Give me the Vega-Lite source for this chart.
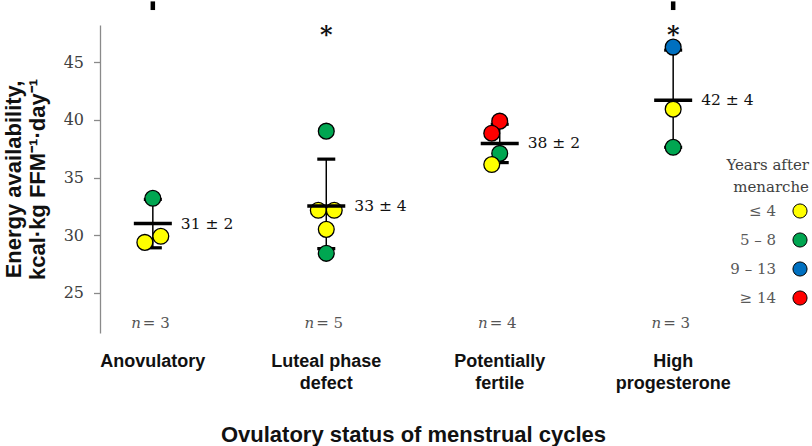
{
  "$schema": "https://vega.github.io/schema/vega-lite/v6.json",
  "width": 626,
  "height": 308,
  "autosize": {"type": "none"},
  "padding": {"left": 100, "top": 25, "right": 86, "bottom": 113},
  "background": "white",
  "config": {"view": {"stroke": null}, "axis": {"grid": false}},
  "datasets": {
    "points": [
      {"group": "Anovulatory", "value": 33.2, "years": "5 – 8", "side": "C"},
      {"group": "Anovulatory", "value": 29.37, "years": "≤ 4", "side": "L"},
      {"group": "Anovulatory", "value": 29.9, "years": "≤ 4", "side": "R"},
      {"group": "Luteal phase defect", "value": 39.03, "years": "5 – 8", "side": "C"},
      {"group": "Luteal phase defect", "value": 32.16, "years": "≤ 4", "side": "L"},
      {"group": "Luteal phase defect", "value": 32.16, "years": "≤ 4", "side": "R"},
      {"group": "Luteal phase defect", "value": 30.5, "years": "≤ 4", "side": "C"},
      {"group": "Luteal phase defect", "value": 28.42, "years": "5 – 8", "side": "C"},
      {"group": "Potentially fertile", "value": 39.9, "years": "≥ 14", "side": "C"},
      {"group": "Potentially fertile", "value": 38.85, "years": "≥ 14", "side": "L"},
      {"group": "Potentially fertile", "value": 37.1, "years": "5 – 8", "side": "C"},
      {"group": "Potentially fertile", "value": 36.13, "years": "≤ 4", "side": "L"},
      {"group": "High progesterone", "value": 46.33, "years": "9 – 13", "side": "C"},
      {"group": "High progesterone", "value": 40.94, "years": "≤ 4", "side": "C"},
      {"group": "High progesterone", "value": 37.63, "years": "5 – 8", "side": "C"}
    ],
    "summary": [
      {"group": "Anovulatory", "mean": 31.0, "lo": 28.9, "hi": 33.1, "label": "31 ± 2", "n": "= 3", "sig": "", "clipped": true},
      {"group": "Luteal phase defect", "mean": 32.53, "lo": 28.83, "hi": 36.6, "label": "33 ± 4", "n": "= 5", "sig": "*", "clipped": false},
      {"group": "Potentially fertile", "mean": 37.96, "lo": 36.3, "hi": 39.63, "label": "38 ± 2", "n": "= 4", "sig": "", "clipped": false},
      {"group": "High progesterone", "mean": 41.72, "lo": 37.63, "hi": 46.07, "label": "42 ± 4", "n": "= 3", "sig": "*", "clipped": true}
    ]
  },
  "encoding": {
    "x": {
      "field": "group",
      "type": "nominal",
      "sort": ["Anovulatory", "Luteal phase defect", "Potentially fertile", "High progesterone"],
      "scale": {"type": "band", "paddingInner": 0.862, "paddingOuter": 0.2356},
      "axis": {
        "orient": "bottom",
        "domain": false,
        "ticks": false,
        "labelAngle": 0,
        "labelFont": "Liberation Sans",
        "labelFontSize": 18,
        "labelFontWeight": "bold",
        "labelColor": "#111111",
        "labelPadding": 19,
        "labelLineHeight": 22,
        "labelBaseline": "top",
        "labelExpr": "datum.value == 'Luteal phase defect' ? ['Luteal phase', 'defect'] : datum.value == 'Potentially fertile' ? ['Potentially', 'fertile'] : datum.value == 'High progesterone' ? ['High', 'progesterone'] : datum.value",
        "title": "Ovulatory status of menstrual cycles",
        "titleFont": "Liberation Sans",
        "titleFontSize": 22,
        "titleFontWeight": "bold",
        "titleColor": "#111111",
        "titlePadding": 32
      }
    }
  },
  "layer": [
    {
      "data": {"name": "summary"},
      "mark": {"type": "rule", "color": "black", "strokeWidth": 1.5},
      "encoding": {
        "y": {
          "field": "lo",
          "type": "quantitative",
          "scale": {"domain": [21.5, 48.25], "nice": false, "zero": false},
          "axis": {
            "values": [25, 30, 35, 40, 45],
            "domainColor": "#8a8a8a",
            "domainWidth": 1.3,
            "tickColor": "#8a8a8a",
            "tickSize": 6.5,
            "tickWidth": 1.3,
            "labelFont": "DejaVu Serif",
            "labelFontSize": 16,
            "labelColor": "#404040",
            "labelPadding": 10,
            "title": ["Energy availability,", "kcal·kg FFM⁻¹·day⁻¹"],
            "titleFont": "Liberation Sans",
            "titleFontSize": 22,
            "titleFontWeight": "bold",
            "titleColor": "#111111",
            "titleLineHeight": 24,
            "titlePadding": 14
          }
        },
        "y2": {"field": "hi"}
      }
    },
    {
      "data": {"name": "summary"},
      "transform": [{"fold": ["lo", "hi"], "as": ["cap", "capvalue"]}],
      "mark": {"type": "tick", "color": "black", "size": 18, "thickness": 3.2, "opacity": 1},
      "encoding": {
        "y": {"field": "capvalue", "type": "quantitative"}
      }
    },
    {
      "data": {"name": "points"},
      "mark": {"type": "point", "shape": "circle", "filled": true, "opacity": 1, "size": 250, "stroke": "black", "strokeWidth": 1.3},
      "encoding": {
        "y": {"field": "value", "type": "quantitative"},
        "xOffset": {"field": "side", "type": "nominal", "sort": ["L", "C", "R"], "scale": {"domain": ["L", "C", "R"]}},
        "color": {
          "field": "years",
          "type": "nominal",
          "scale": {
            "domain": ["≤ 4", "5 – 8", "9 – 13", "≥ 14"],
            "range": ["#FFFF00", "#00A651", "#0070C0", "#FF0000"]
          },
          "legend": {
            "orient": "none",
            "legendX": 626,
            "legendY": 133,
            "title": ["Years after", "menarche"],
            "titleFont": "DejaVu Serif",
            "titleFontSize": 15,
            "titleFontWeight": "normal",
            "titleColor": "#404040",
            "titleAlign": "right",
            "titleAnchor": "end",
            "titleLineHeight": 22,
            "titlePadding": 8,
            "labelFont": "DejaVu Serif",
            "labelFontSize": 15,
            "labelColor": "#595959",
            "labelAlign": "right",
            "labelOffset": -32,
            "symbolType": "circle",
            "symbolSize": 200,
            "symbolStrokeColor": "black",
            "symbolStrokeWidth": 1,
            "symbolOpacity": 1,
            "rowPadding": 9
          }
        }
      }
    },
    {
      "data": {"name": "summary"},
      "mark": {"type": "tick", "color": "black", "size": 38, "thickness": 3.5, "opacity": 1},
      "encoding": {
        "y": {"field": "mean", "type": "quantitative"}
      }
    },
    {
      "data": {"name": "summary"},
      "mark": {"type": "text", "align": "left", "baseline": "middle", "dx": 28, "font": "DejaVu Serif", "fontSize": 15.5, "color": "#111111"},
      "encoding": {
        "y": {"field": "mean", "type": "quantitative"},
        "text": {"field": "label"}
      }
    },
    {
      "data": {"name": "summary"},
      "mark": {"type": "text", "align": "right", "baseline": "middle", "dx": -12, "font": "DejaVu Serif", "fontStyle": "italic", "fontSize": 15, "color": "#555555"},
      "encoding": {
        "y": {"datum": 22.33, "type": "quantitative"},
        "text": {"value": "n"}
      }
    },
    {
      "data": {"name": "summary"},
      "mark": {"type": "text", "align": "left", "baseline": "middle", "dx": -10, "font": "DejaVu Serif", "fontSize": 15, "color": "#555555"},
      "encoding": {
        "y": {"datum": 22.33, "type": "quantitative"},
        "text": {"field": "n"}
      }
    },
    {
      "data": {"name": "summary"},
      "transform": [{"filter": "datum.sig != ''"}],
      "mark": {"type": "text", "align": "center", "baseline": "middle", "dy": 4, "font": "DejaVu Serif", "fontWeight": "bold", "fontSize": 24, "color": "#111111"},
      "encoding": {
        "y": {"datum": 47.6, "type": "quantitative"},
        "text": {"field": "sig"}
      }
    },
    {
      "data": {"name": "summary"},
      "transform": [{"filter": "datum.clipped"}],
      "mark": {"type": "rule", "color": "black", "strokeWidth": 4.5},
      "encoding": {
        "y": {"datum": 50.3, "type": "quantitative"},
        "y2": {"datum": 49.55}
      }
    }
  ]
}
